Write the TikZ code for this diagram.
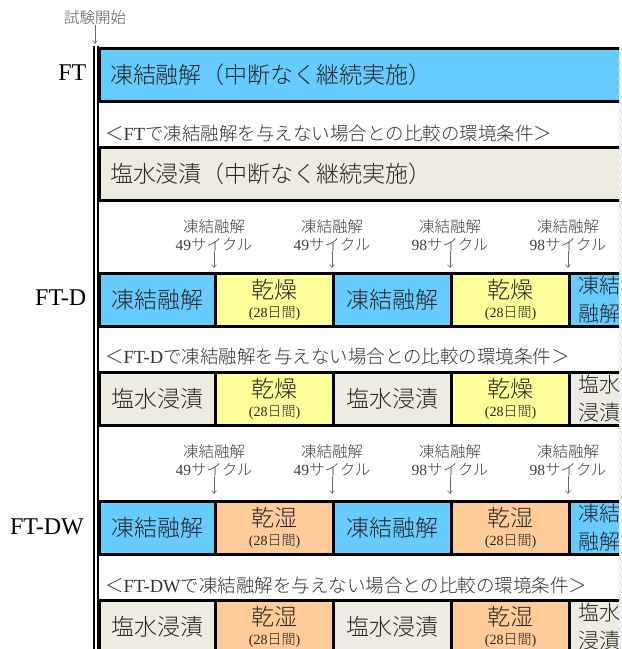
\documentclass[tikz,border=0pt]{standalone}
\usepackage{fontspec}
\setmainfont{Liberation Serif}
\newfontfamily\cjk{Noto Sans CJK JP Light}
\usetikzlibrary{decorations.pathmorphing,arrows.meta}
\definecolor{frz}{HTML}{66CCFF}
\definecolor{dry}{HTML}{FFFF99}
\definecolor{wet}{HTML}{FFCC99}
\definecolor{salt}{HTML}{EEECE1}
\newcommand\latn[1]{{\rmfamily #1}}
\begin{document}
\begin{tikzpicture}[x=1pt,y=-1pt,
  cell/.style={draw=black, line width=3pt, anchor=north west, minimum height=53pt, inner sep=0pt, text=black!85, font=\fontsize{23}{27}\selectfont\cjk},
  wide/.style={cell, minimum width=545pt, text width=523pt, inner xsep=11pt, align=left},
  twoline/.style={font=\fontsize{21}{28}\selectfont\cjk, align=left},
  bigtxt/.style={font=\fontsize{23}{27}\selectfont\cjk, text=black!85, inner sep=0pt},
  smalltxt/.style={font=\fontsize{14}{16}\selectfont\cjk, text=black!85, inner sep=0pt},
  ann/.style={font=\fontsize{15.5}{18}\selectfont\cjk, align=center, text=black!75, inner sep=0pt},
  cmp/.style={font=\fontsize{18.5}{22}\selectfont\cjk, text=black!80, inner sep=0pt, anchor=west},
  lab/.style={font=\fontsize{24}{28}\selectfont, anchor=east, inner sep=0pt},
  arr/.style={-{Straight Barb[length=3pt,width=5pt]}, gray!80!black, line width=0.6pt}
]
\useasboundingbox (0,0) rectangle (622,649);

% start label
\node[ann, text=black!65] (start) at (95,18) {試験開始};
\coordinate (startend) at (95,44);
\draw[arr] (start.south) -- (startend);

% double vertical line
\draw[line width=2pt] (94,46) -- (94,652);
\draw[line width=2pt] (97.5,46) -- (97.5,652);

% section labels
\node[lab] (lft) at (86.5,73) {FT};
\node[lab] (lftd) at (86.5,298) {FT-D};
\node[lab] (lftdw) at (84,527) {FT-DW};

\begin{scope}
\clip (0,0) rectangle (619,649);
% ---- FT ----
\node[wide, fill=frz] (ft) at (97.5,47) {凍結融解（中断なく継続実施）};
\node[cmp] (c1) at (105,133) {＜\latn{FT}で凍結融解を与えない場合との比較の環境条件＞};
\node[wide, fill=salt] (s1) at (97.5,146) {塩水浸漬（中断なく継続実施）};

% ---- FT-D ----
\node[ann] (a1) at (214,235) {凍結融解\\\latn{49}サイクル};
\node[ann] (a2) at (332,235) {凍結融解\\\latn{49}サイクル};
\node[ann] (a3) at (450,235) {凍結融解\\\latn{98}サイクル};
\node[ann] (a4) at (568,235) {凍結融解\\\latn{98}サイクル};
\coordinate (t1) at (214,268);
\coordinate (t2) at (332,268);
\coordinate (t3) at (450,268);
\coordinate (t4) at (568,268);
\draw[arr] (a1.south) -- (t1);
\draw[arr] (a2.south) -- (t2);
\draw[arr] (a3.south) -- (t3);
\draw[arr] (a4.south) -- (t4);

\node[cell, fill=frz, minimum width=116.5pt] (d1) at (97.5,272) {凍結融解};
\node[cell, fill=dry, minimum width=118pt] (d2) at (214,272) {};
\node[cell, fill=frz, minimum width=118pt] (d3) at (332,272) {凍結融解};
\node[cell, fill=dry, minimum width=118pt] (d4) at (450,272) {};
\node[cell, fill=frz, minimum width=60pt, twoline] (d5) at (568,272) {凍結\\融解};
\node[bigtxt] (d2a) at ([yshift=-18pt]d2.north) {乾燥};
\node[smalltxt] (d2b) at ([yshift=-41pt]d2.north) {\latn{(28}日間\latn{)}};
\node[bigtxt] (d4a) at ([yshift=-18pt]d4.north) {乾燥};
\node[smalltxt] (d4b) at ([yshift=-41pt]d4.north) {\latn{(28}日間\latn{)}};

\node[cmp] (c2) at (105,356) {＜\latn{FT-D}で凍結融解を与えない場合との比較の環境条件＞};

\node[cell, fill=salt, minimum width=116.5pt] (e1) at (97.5,371) {塩水浸漬};
\node[cell, fill=dry, minimum width=118pt] (e2) at (214,371) {};
\node[cell, fill=salt, minimum width=118pt] (e3) at (332,371) {塩水浸漬};
\node[cell, fill=dry, minimum width=118pt] (e4) at (450,371) {};
\node[cell, fill=salt, minimum width=60pt, twoline] (e5) at (568,371) {塩水\\浸漬};
\node[bigtxt] (e2a) at ([yshift=-18pt]e2.north) {乾燥};
\node[smalltxt] (e2b) at ([yshift=-41pt]e2.north) {\latn{(28}日間\latn{)}};
\node[bigtxt] (e4a) at ([yshift=-18pt]e4.north) {乾燥};
\node[smalltxt] (e4b) at ([yshift=-41pt]e4.north) {\latn{(28}日間\latn{)}};

% ---- FT-DW ----
\node[ann] (b1) at (214,460) {凍結融解\\\latn{49}サイクル};
\node[ann] (b2) at (332,460) {凍結融解\\\latn{49}サイクル};
\node[ann] (b3) at (450,460) {凍結融解\\\latn{98}サイクル};
\node[ann] (b4) at (568,460) {凍結融解\\\latn{98}サイクル};
\coordinate (u1) at (214,494);
\coordinate (u2) at (332,494);
\coordinate (u3) at (450,494);
\coordinate (u4) at (568,494);
\draw[arr] (b1.south) -- (u1);
\draw[arr] (b2.south) -- (u2);
\draw[arr] (b3.south) -- (u3);
\draw[arr] (b4.south) -- (u4);

\node[cell, fill=frz, minimum width=116.5pt] (w1) at (97.5,500) {凍結融解};
\node[cell, fill=wet, minimum width=118pt] (w2) at (214,500) {};
\node[cell, fill=frz, minimum width=118pt] (w3) at (332,500) {凍結融解};
\node[cell, fill=wet, minimum width=118pt] (w4) at (450,500) {};
\node[cell, fill=frz, minimum width=60pt, twoline] (w5) at (568,500) {凍結\\融解};
\node[bigtxt] (w2a) at ([yshift=-18pt]w2.north) {乾湿};
\node[smalltxt] (w2b) at ([yshift=-41pt]w2.north) {\latn{(28}日間\latn{)}};
\node[bigtxt] (w4a) at ([yshift=-18pt]w4.north) {乾湿};
\node[smalltxt] (w4b) at ([yshift=-41pt]w4.north) {\latn{(28}日間\latn{)}};

\node[cmp] (c3) at (105,585) {＜\latn{FT-DW}で凍結融解を与えない場合との比較の環境条件＞};

\node[cell, fill=salt, minimum width=116.5pt] (v1) at (97.5,599) {塩水浸漬};
\node[cell, fill=wet, minimum width=118pt] (v2) at (214,599) {};
\node[cell, fill=salt, minimum width=118pt] (v3) at (332,599) {塩水浸漬};
\node[cell, fill=wet, minimum width=118pt] (v4) at (450,599) {};
\node[cell, fill=salt, minimum width=60pt, twoline] (v5) at (568,599) {塩水\\浸漬};
\node[bigtxt] (v2a) at ([yshift=-18pt]v2.north) {乾湿};
\node[smalltxt] (v2b) at ([yshift=-41pt]v2.north) {\latn{(28}日間\latn{)}};
\node[bigtxt] (v4a) at ([yshift=-18pt]v4.north) {乾湿};
\node[smalltxt] (v4b) at ([yshift=-41pt]v4.north) {\latn{(28}日間\latn{)}};
\end{scope}

% torn right edge
\draw[gray!35, line width=0.6pt, decorate, decoration={zigzag, segment length=8pt, amplitude=1.5pt}] (620.5,47) -- (620.5,649);
\end{tikzpicture}
\end{document}
